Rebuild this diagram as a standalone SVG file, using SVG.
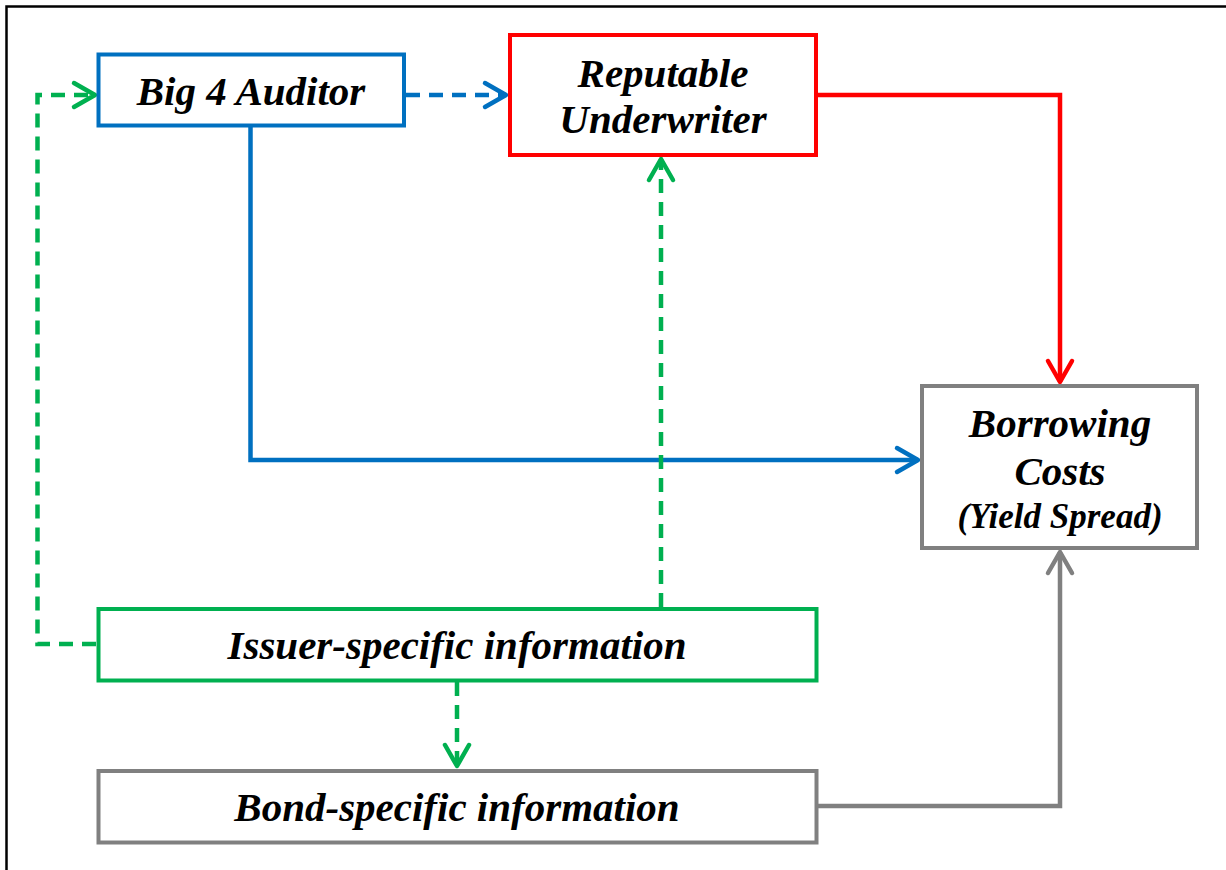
<svg xmlns="http://www.w3.org/2000/svg" width="1226" height="870" viewBox="0 0 1226 870">
<defs>
<style>
text{font-family:"Liberation Serif","Times New Roman",serif;font-weight:bold;font-style:italic;font-size:41px;fill:#000;text-anchor:middle}
.box{fill:#fff;stroke-width:4}
.c{fill:none;stroke-width:4.5}
.dash{stroke-dasharray:14 9}
.mk{fill:none;stroke-width:4.5;stroke-linecap:round;stroke-linejoin:round;stroke-dasharray:none}
</style>
<marker id="aG" markerUnits="userSpaceOnUse" viewBox="-26 -16 30 32" refX="0" refY="0" markerWidth="30" markerHeight="32" orient="auto" overflow="visible"><path class="mk" stroke="#00B050" d="M-21,-12 L0,0 L-21,12"/></marker>
<marker id="aB" markerUnits="userSpaceOnUse" viewBox="-26 -16 30 32" refX="0" refY="0" markerWidth="30" markerHeight="32" orient="auto" overflow="visible"><path class="mk" stroke="#0070C0" d="M-21,-12 L0,0 L-21,12"/></marker>
<marker id="aR" markerUnits="userSpaceOnUse" viewBox="-26 -16 30 32" refX="0" refY="0" markerWidth="30" markerHeight="32" orient="auto" overflow="visible"><path class="mk" stroke="#FF0000" d="M-21,-12 L0,0 L-21,12"/></marker>
<marker id="aY" markerUnits="userSpaceOnUse" viewBox="-26 -16 30 32" refX="0" refY="0" markerWidth="30" markerHeight="32" orient="auto" overflow="visible"><path class="mk" stroke="#808080" d="M-21,-12 L0,0 L-21,12"/></marker>
</defs>
<rect x="0" y="0" width="1226" height="870" fill="#fff"/>
<rect x="6.5" y="6.5" width="1240" height="880" fill="none" stroke="#000" stroke-width="2.5"/>
<g id="connectors">
<path class="c dash" stroke="#00B050" d="M96,644 H37.5 V95 H95" marker-end="url(#aG)"/>
<path class="c dash" stroke="#0070C0" d="M406,95 H506" marker-end="url(#aB)"/>
<path class="c" stroke="#0070C0" d="M250.5,127 V460 H918" marker-end="url(#aB)"/>
<path class="c dash" stroke="#00B050" d="M661,607 V159" marker-end="url(#aG)"/>
<path class="c dash" stroke="#00B050" d="M457,682 V766" marker-end="url(#aG)"/>
<path class="c" stroke="#FF0000" d="M818,95 H1060 V382" marker-end="url(#aR)"/>
<path class="c" stroke="#808080" d="M817,806 H1060 V552" marker-end="url(#aY)"/>
</g>
<g id="big4">
<rect class="box" stroke="#0070C0" x="98.5" y="54.5" width="305.5" height="71"/>
<text x="251" y="105">Big 4 Auditor</text>
</g>
<g id="underwriter">
<rect class="box" stroke="#FF0000" x="510" y="35" width="306" height="120"/>
<text x="663" y="87">Reputable</text>
<text x="663" y="133">Underwriter</text>
</g>
<g id="borrowing">
<rect class="box" stroke="#808080" x="922" y="386" width="275" height="162"/>
<text x="1060" y="437">Borrowing</text>
<text x="1060" y="485">Costs</text>
<text x="1060" y="528" style="font-size:35px">(Yield Spread)</text>
</g>
<g id="issuer">
<rect class="box" stroke="#00B050" x="98.5" y="609" width="718" height="71.5"/>
<text x="457" y="659">Issuer-specific information</text>
</g>
<g id="bond">
<rect class="box" stroke="#808080" x="98.5" y="771" width="718" height="71.5"/>
<text x="457" y="821">Bond-specific information</text>
</g>
</svg>
